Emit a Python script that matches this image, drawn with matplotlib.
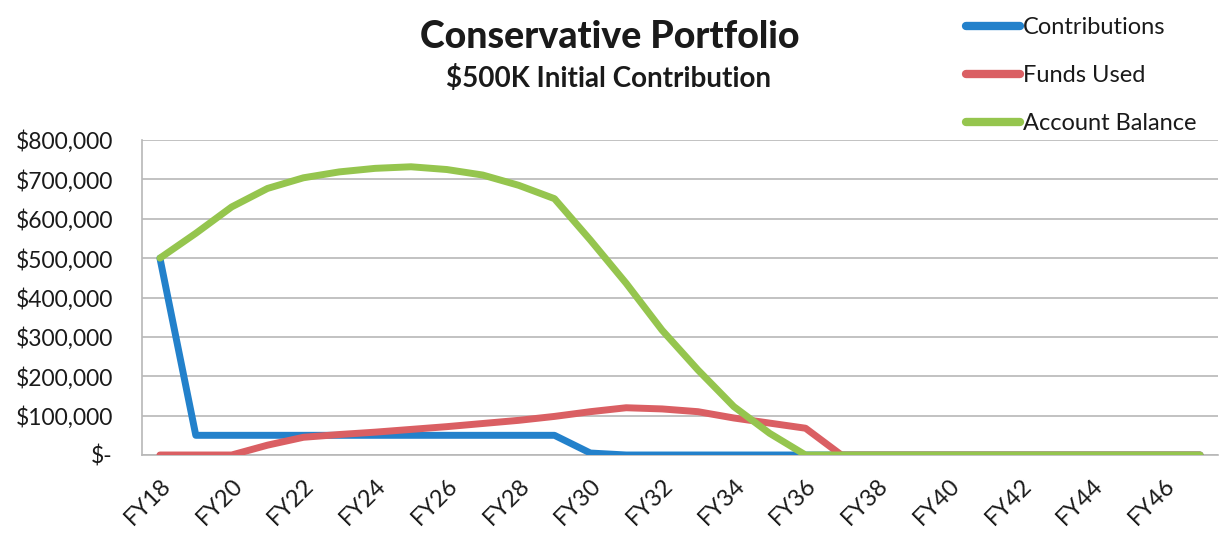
import matplotlib
matplotlib.use("Agg")
import matplotlib.pyplot as plt
from matplotlib.ticker import FuncFormatter

plt.rcParams['font.family'] = ['Lato', 'DejaVu Sans']

years = [f"FY{y}" for y in range(18, 48)]
contributions = [500000, 50000, 50000, 50000, 50000, 50000, 50000, 50000, 50000, 50000,
                 50000, 50000, 5000, 0, 0, 0, 0, 0, 0, 0,
                 0, 0, 0, 0, 0, 0, 0, 0, 0, 0]
funds_used = [0, 0, 0, 25000, 45000, 52000, 58000, 65000, 72000, 80000,
              88000, 98000, 110000, 120000, 117000, 110000, 94000, 81000, 68000, 0,
              0, 0, 0, 0, 0, 0, 0, 0, 0, 0]
account_balance = [500000, 563000, 630000, 677000, 704000, 719000, 728000, 732000, 725000, 711000,
                   685000, 651000, 546000, 436000, 317000, 216000, 123000, 55000, 0, 0,
                   0, 0, 0, 0, 0, 0, 0, 0, 0, 0]
yticks = [0, 100000, 200000, 300000, 400000, 500000, 600000, 700000, 800000]

c_blue = "#2381CB"
c_red = "#DA5F63"
c_green = "#95C54E"

fig = plt.figure(figsize=(12.25, 5.38), dpi=100)
ax = fig.add_axes([142/1225, 1-455/538, (1218-142)/1225, (455-140)/538])

x = list(range(len(years)))
lw = 5
ax.plot(x, contributions, color=c_blue, lw=lw, label="Contributions", solid_joinstyle='round', solid_capstyle='round', zorder=3)
ax.plot(x, funds_used, color=c_red, lw=lw, label="Funds Used", solid_joinstyle='round', solid_capstyle='round', zorder=4)
ax.plot(x, account_balance, color=c_green, lw=lw, label="Account Balance", solid_joinstyle='round', solid_capstyle='round', zorder=5)

ax.set_xlim(-0.5, len(years) - 0.5)
ax.set_ylim(0, 800000)
ax.set_yticks(yticks)
ax.yaxis.set_major_formatter(FuncFormatter(lambda v, p: "$-" if v == 0 else f"${v:,.0f}"))
ax.set_xticks(x[::2])
ax.set_xticklabels(years[::2], rotation=45, ha='right', va='top', rotation_mode='anchor')
ax.tick_params(axis='both', length=0, colors='#1a1a1a')
ax.tick_params(axis='y', pad=21, labelsize=16.5)
ax.tick_params(axis='x', pad=14, labelsize=17)
ax.grid(axis='y', color='#b8b8b8', lw=1.2)
ax.set_axisbelow(True)
for s in ['top', 'right']:
    ax.spines[s].set_visible(False)
for s in ['left', 'bottom']:
    ax.spines[s].set_color('#b8b8b8')
    ax.spines[s].set_linewidth(1.2)

fig.text(610/1225, 1-37/538, "Conservative Portfolio", ha='center', va='center', fontsize=27, fontweight='black', color='#1a1a1a')
fig.text(609/1225, 1-79/538, "$500K Initial Contribution", ha='center', va='center', fontsize=20, fontweight='bold', color='#1a1a1a')

leg = ax.legend(loc='upper left', bbox_to_anchor=(966/1225, 1-17/538), bbox_transform=fig.transFigure,
                frameon=False, fontsize=17, handlelength=2.3, handletextpad=0.1, labelspacing=1.15,
                borderpad=0, borderaxespad=0)
for line in leg.get_lines():
    line.set_linewidth(6)
for t in leg.get_texts():
    t.set_color('#1a1a1a')

fig.savefig("out.png", dpi=100)
